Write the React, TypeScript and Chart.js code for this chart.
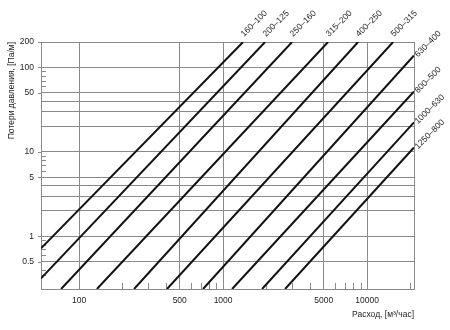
import React, { useEffect, useRef } from 'react';
import { Chart, registerables } from 'chart.js';

Chart.register(...registerables);

// Series (duct sizes) and their end points
const seriesLabels = ['160–100', '200–125', '250–160', '315–200', '400–250', '500–315', '630–400', '800–500', '1000–630', '1250–800'];
const flowStart = [54.4, 54.4, 75, 133, 241, 408, 726, 1155, 1866, 2695];
const lossStart = [0.721, 0.318, 0.238, 0.238, 0.238, 0.238, 0.238, 0.238, 0.238, 0.238];
const flowEnd = [1377, 1957, 3014, 5358, 8660, 15160, 21170, 21170, 21170, 21170];
const lossEnd = [200, 200, 200, 200, 200, 200, 138.7, 52.0, 22.4, 11.3];

// Axes
const xMin = 54.4;
const xMax = 21170;
const yMin = 0.238;
const yMax = 200;
const xTickValues = [100, 500, 1000, 5000, 10000];
const xMinorTicks = [200, 300, 400, 600, 700, 800, 900, 2000, 3000, 4000, 6000, 7000, 8000, 9000, 20000];
const yGridValues = [0.5, 1, 2, 3, 4, 5, 10, 20, 30, 40, 50, 100, 200];
const yLabelValues = [0.5, 1, 5, 10, 50, 100, 200];
const yMinorTicks = [0.35, 0.4, 0.6, 0.7, 0.8, 0.9, 6, 7, 8, 9, 60, 70, 80, 90];

const xTitle = 'Расход, [м³/час]';
const yTitle = 'Потери давления, [Па/м]';

const FONT = '"Liberation Sans", Arial, sans-serif';
const GRID = '#8a8a8a';
const TEXT = '#1e1e1e';
const FS = 8.5;

export default function App() {
  const ref = useRef<HTMLCanvasElement | null>(null);

  useEffect(() => {
    const canvas = ref.current;
    if (!canvas) return;

    const datasets = seriesLabels.map((label, i) => ({
      label,
      data: [
        { x: flowStart[i], y: lossStart[i] },
        { x: flowEnd[i], y: lossEnd[i] },
      ],
      showLine: true,
      borderColor: '#111',
      borderWidth: 2,
      pointRadius: 0,
      fill: false,
    }));

    const decorPlugin = {
      id: 'decor',
      beforeDatasetsDraw(chart: any) {
        const { ctx, chartArea, scales } = chart;
        ctx.save();
        ctx.strokeStyle = GRID;
        ctx.lineWidth = 1;
        ctx.beginPath();
        yMinorTicks.forEach((v) => {
          const py = Math.round(scales.y.getPixelForValue(v)) + 0.5;
          ctx.moveTo(chartArea.left, py);
          ctx.lineTo(chartArea.left + 5, py);
        });
        xMinorTicks.forEach((v) => {
          const px = Math.round(scales.x.getPixelForValue(v)) + 0.5;
          ctx.moveTo(px, chartArea.bottom);
          ctx.lineTo(px, chartArea.bottom - 6);
        });
        yLabelValues.forEach((v) => {
          const py = Math.round(scales.y.getPixelForValue(v)) + 0.5;
          ctx.moveTo(chartArea.left - 3, py);
          ctx.lineTo(chartArea.left, py);
        });
        ctx.stroke();
        ctx.strokeRect(
          Math.round(chartArea.left) + 0.5,
          Math.round(chartArea.top) + 0.5,
          Math.round(chartArea.right - chartArea.left),
          Math.round(chartArea.bottom - chartArea.top)
        );
        ctx.restore();
      },
      afterDatasetsDraw(chart: any) {
        const { ctx } = chart;
        ctx.save();
        ctx.fillStyle = TEXT;
        ctx.font = `${FS}px ${FONT}`;
        ctx.textAlign = 'left';
        ctx.textBaseline = 'alphabetic';
        seriesLabels.forEach((label, i) => {
          const pt = chart.getDatasetMeta(i).data[1];
          const atTop = lossEnd[i] >= yMax * 0.99;
          const ax = atTop ? pt.x + 1 : pt.x + 4;
          const ay = atTop ? pt.y - 5 : pt.y + 2;
          ctx.save();
          ctx.translate(ax, ay);
          ctx.rotate(-Math.PI / 4);
          ctx.fillText(label, 0, 0);
          ctx.restore();
        });
        ctx.restore();
      },
    };

    const chart = new Chart(canvas, {
      type: 'scatter',
      data: { datasets },
      options: {
        animation: false,
        responsive: false,
        devicePixelRatio: 1,
        layout: { padding: { left: 0, top: 42, right: 36, bottom: 0 } },
        plugins: {
          legend: { display: false },
          tooltip: { enabled: false },
        },
        scales: {
          x: {
            type: 'logarithmic',
            min: xMin,
            max: xMax,
            afterBuildTicks: (scale: any) => {
              scale.ticks = xTickValues.map((v) => ({ value: v }));
            },
            afterFit: (scale: any) => {
              scale.height = 41;
            },
            grid: { color: GRID, lineWidth: 1, drawTicks: false },
            border: { display: false },
            ticks: {
              padding: 7,
              maxRotation: 0,
              autoSkip: false,
              color: TEXT,
              font: { family: FONT, size: FS },
              callback: (v: any) => String(v),
            },
            title: {
              display: true,
              text: xTitle,
              align: 'end',
              color: TEXT,
              font: { family: FONT, size: FS },
              padding: { top: 0, bottom: 10 },
            },
          },
          y: {
            type: 'logarithmic',
            min: yMin,
            max: yMax,
            afterBuildTicks: (scale: any) => {
              scale.ticks = yGridValues.map((v) => ({ value: v }));
            },
            afterFit: (scale: any) => {
              scale.width = 41;
            },
            grid: { color: GRID, lineWidth: 1, drawTicks: false },
            border: { display: false },
            ticks: {
              padding: 7,
              autoSkip: false,
              color: TEXT,
              font: { family: FONT, size: FS },
              callback: (v: any) => (yLabelValues.includes(Number(v)) ? String(v) : ''),
            },
            title: {
              display: true,
              text: yTitle,
              align: 'end',
              color: TEXT,
              font: { family: FONT, size: FS },
              padding: { top: 7, bottom: 0 },
            },
          },
        },
      },
      plugins: [decorPlugin],
    } as any);

    return () => chart.destroy();
  }, []);

  return (
    <div style={{ position: 'fixed', left: 0, top: 0, width: 450, height: 330, background: '#fff' }}>
      <canvas ref={ref} width={450} height={330} style={{ width: 450, height: 330, display: 'block' }} />
    </div>
  );
}
